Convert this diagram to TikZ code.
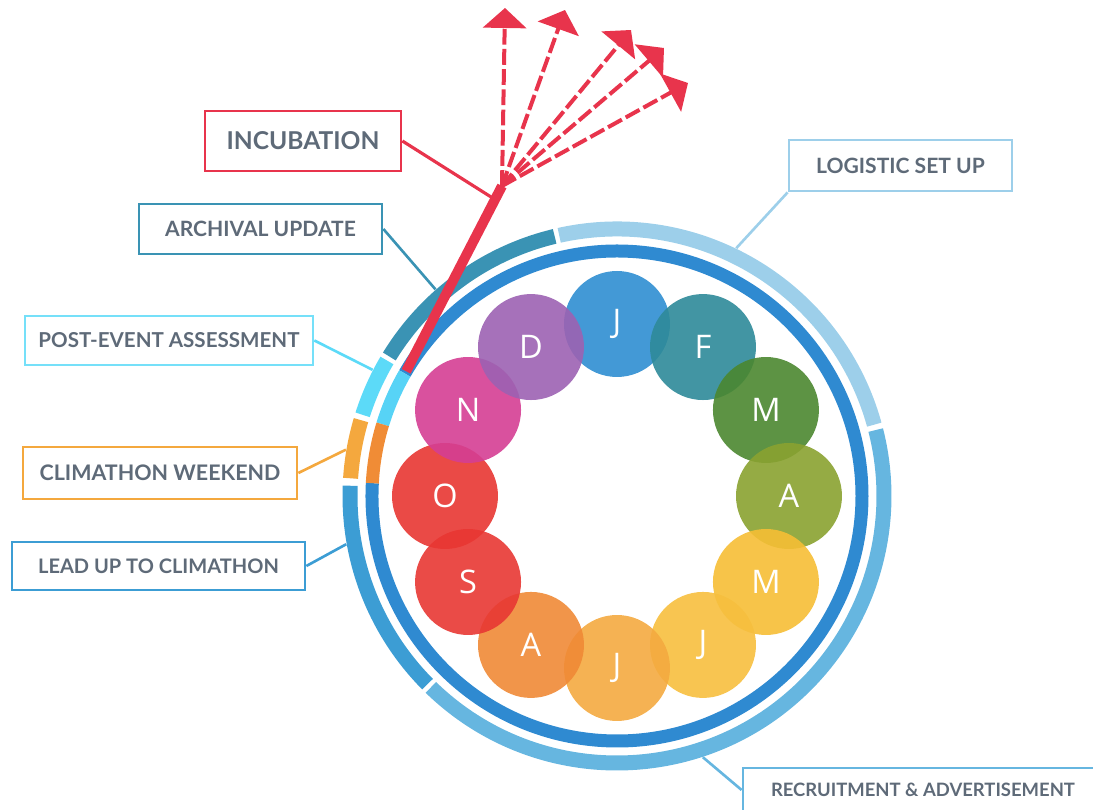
\documentclass[tikz,border=0pt]{standalone}
\usepackage{fontspec}
\setmainfont{Lato}
\newfontfamily\monthfont{Open Sans}
\usepackage{tikz}
\usetikzlibrary{arrows.meta, positioning, calc}
\definecolor{tagtext}{HTML}{5E6A78}
\definecolor{incubc}{HTML}{E8344C}
\definecolor{archivc}{HTML}{3A93B4}
\definecolor{postc}{HTML}{5CDAF8}
\definecolor{weekendc}{HTML}{F4A83E}
\definecolor{leadc}{HTML}{3C9DD4}
\definecolor{logisc}{HTML}{9DCFEA}
\definecolor{recruitc}{HTML}{66B6E0}
\definecolor{ringblue}{HTML}{2F8AD1}
\definecolor{ringcyan}{HTML}{57D3F6}
\definecolor{ringorange}{HTML}{F08C36}
\definecolor{janc}{HTML}{2F8ED1}
\definecolor{febc}{HTML}{2E8A99}
\definecolor{marc}{HTML}{4B8730}
\definecolor{aprc}{HTML}{8AA230}
\definecolor{mayc}{HTML}{F6BE35}
\definecolor{junc}{HTML}{F7BF3E}
\definecolor{julc}{HTML}{F4AA40}
\definecolor{augc}{HTML}{F08A36}
\definecolor{sepc}{HTML}{E83733}
\definecolor{octc}{HTML}{E83632}
\definecolor{novc}{HTML}{D53E93}
\definecolor{decc}{HTML}{9C62B2}

\begin{document}
\begin{tikzpicture}[x=0.02cm, y=0.02cm,
    month/.style={circle, minimum size=2.12cm, inner sep=0pt, fill opacity=0.9, text opacity=1, text=white, font=\monthfont\fontsize{18.5}{18.5}\selectfont},
    tag/.style={draw, line width=1.6pt, text=tagtext, inner sep=0pt, font=\bfseries\fontsize{12}{12}\selectfont},
    outring/.style={line width=0.3cm},
    inring/.style={line width=0.26cm},
    lead/.style={line width=1.5pt},
    idea/.style={incubc, line width=0.08cm, dash pattern=on 9pt off 2.5pt, -{Triangle[length=0.4cm, width=0.86cm]}}
]
    \useasboundingbox (-617,-314) rectangle (476,496);

    % Outer ring: the phases
    \draw[outring, logisc] (15.5:267) arc[start angle=15.5, end angle=102.5, radius=267];
    \draw[outring, archivc] (103.5:267) arc[start angle=103.5, end angle=148.5, radius=267];
    \draw[outring, postc] (149.5:267) arc[start angle=149.5, end angle=162.3, radius=267];
    \draw[outring, weekendc] (163.5:267) arc[start angle=163.5, end angle=176.2, radius=267];
    \draw[outring, leadc] (177.8:267) arc[start angle=177.8, end angle=224.8, radius=267];
    \draw[outring, recruitc] (225.8:267) arc[start angle=225.8, end angle=374.3, radius=267];

    % Inner ring
    \draw[inring, ringblue] (177:245) arc[start angle=177, end angle=510, radius=245];
    \draw[inring, ringcyan] (150:245) arc[start angle=150, end angle=163, radius=245];
    \draw[inring, ringorange] (163:245) arc[start angle=163, end angle=177, radius=245];

    % Phase labels
    \node[tag, incubc, text=tagtext, minimum width=3.92cm, minimum height=1.2cm, font=\bfseries\fontsize{14}{14}\selectfont] (incub) at (-314,355) {INCUBATION};
    \node[tag, archivc, text=tagtext, minimum width=4.86cm, minimum height=1.0cm] (archiv) at (-356.5,267) {ARCHIVAL UPDATE};
    \node[tag, postc!85!white, text=tagtext, minimum width=5.76cm, minimum height=0.98cm, font=\bfseries\fontsize{11.7}{11.7}\selectfont] (postev) at (-448,155.5) {POST-EVENT ASSESSMENT};
    \node[tag, weekendc, text=tagtext, minimum width=5.48cm, minimum height=1.04cm, font=\bfseries\fontsize{12.2}{12.2}\selectfont] (weekend) at (-457,23) {CLIMATHON WEEKEND};
    \node[tag, leadc, text=tagtext, minimum width=5.86cm, minimum height=0.96cm, font=\bfseries\fontsize{11.4}{11.4}\selectfont] (leadup) at (-458.5,-70) {LEAD UP TO CLIMATHON};
    \node[tag, logisc, text=tagtext, minimum width=4.46cm, minimum height=1.02cm] (logis) at (283.5,330.5) {LOGISTIC SET UP};
    \node[tag, recruitc, text=tagtext, minimum width=7.2cm, minimum height=0.88cm, font=\bfseries\fontsize{10.5}{10.5}\selectfont] (recruit) at (306,-294) {RECRUITMENT \& ADVERTISEMENT};

    % Label leads to the ring
    \coordinate (archE) at (131.3:275);
    \coordinate (postE) at (152.7:275);
    \coordinate (weekE) at (170.3:275);
    \coordinate (leadE) at (190.1:275);
    \coordinate (logisE) at (64.3:275);
    \coordinate (recrE) at (-71.8:275);
    \draw[lead, archivc] (archiv.east) -- (archE);
    \draw[lead, postc] (postev.east) -- (postE);
    \draw[lead, weekendc] (weekend.east) -- (weekE);
    \draw[lead, leadc] (leadup.east) -- (leadE);
    \draw[lead, logisc] (logis.south west) -- (logisE);
    \draw[lead, recruitc] (recruit.west) -- (recrE);

    % Incubation stem and its arrows
    \coordinate (incS) at (149.4:245);
    \coordinate (fan) at (-115,310);
    \coordinate (incJ) at ($(incS)!0.94!(fan)$);
    \draw[lead, incubc, line width=1.8pt] (incub.east) -- ([xshift=-0.1cm]incJ);
    \draw[incubc, line width=0.2cm] (incS) -- (fan);
    \coordinate (tipA) at (-112,488);
    \coordinate (tipB) at (-52,486);
    \coordinate (tipC) at (14,466);
    \coordinate (tipD) at (47,448);
    \coordinate (tipE) at (71,413);
    \draw[idea] (fan) -- (tipA);
    \draw[idea] (fan) -- (tipB);
    \draw[idea] (fan) -- (tipC);
    \draw[idea] (fan) -- (tipD);
    \draw[idea] (fan) -- (tipE);

    % Months
    \node[month, fill=janc] (jan) at (90:172) {J};
    \node[month, fill=febc] (feb) at (60:172) {F};
    \node[month, fill=marc] (mar) at (30:172) {M};
    \node[month, fill=aprc] (apr) at (0:172) {A};
    \node[month, fill=mayc] (may) at (-30:172) {M};
    \node[month, fill=junc] (jun) at (-60:172) {J};
    \node[month, fill=julc] (jul) at (-90:172) {J};
    \node[month, fill=augc] (aug) at (-120:172) {A};
    \node[month, fill=sepc] (sep) at (-150:172) {S};
    \node[month, fill=octc] (oct) at (180:172) {O};
    \node[month, fill=novc] (nov) at (150:172) {N};
    \node[month, fill=decc] (dec) at (120:172) {D};
\end{tikzpicture}
\end{document}
